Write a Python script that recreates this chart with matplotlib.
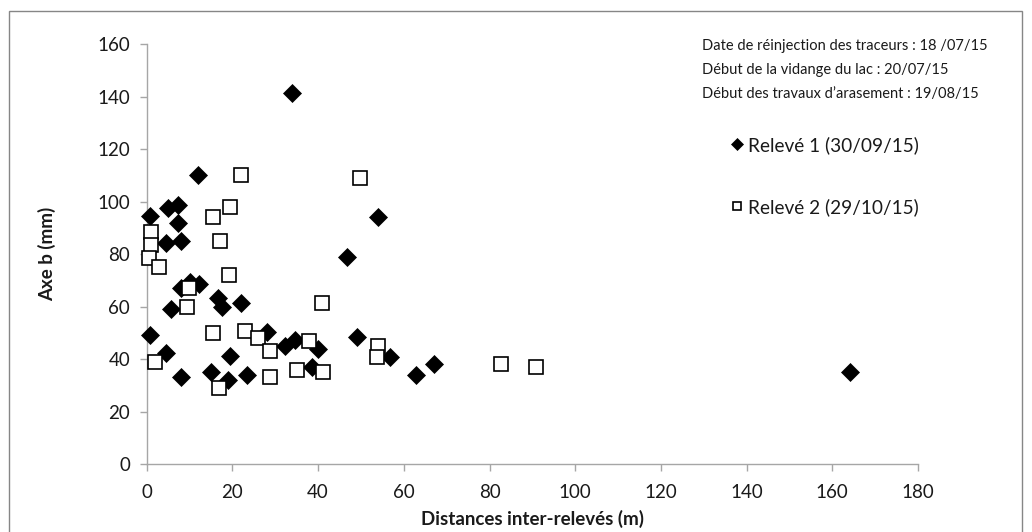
import matplotlib.pyplot as plt
from matplotlib.patches import Rectangle

# Relevé 1 (30/09/15) : distance inter-relevés (m) et axe b (mm)
dist_r1 = [0.8, 0.8, 5.0, 7.4, 7.4, 4.5, 8.1, 11.9, 10.1, 12.2, 8.1, 16.7,
           17.5, 22.1, 5.6, 28.0, 4.6, 19.4, 7.9, 15.0, 19.0, 23.3, 34.0,
           53.9, 46.8, 32.3, 34.6, 40.0, 49.0, 56.8, 38.5, 62.8, 67.1, 164.1]
axeb_r1 = [94.6, 49.3, 97.5, 98.7, 92.0, 84.4, 85.2, 110.2, 69.6, 68.7, 67.0,
           63.5, 60.0, 61.6, 59.1, 50.5, 42.3, 41.3, 33.4, 35.3, 32.2, 34.1,
           141.5, 94.1, 79.1, 45.1, 47.4, 43.8, 48.4, 41.0, 37.2, 34.1, 38.2, 35.3]

# Relevé 2 (29/10/15)
dist_r2 = [19.4, 15.5, 0.9, 0.9, 17.2, 0.5, 2.9, 19.2, 9.9, 9.3, 15.5, 22.9,
           26.0, 28.8, 1.9, 16.9, 28.8, 21.9, 49.8, 40.8, 37.9, 54.0, 53.8,
           35.0, 41.2, 82.6, 90.8]
axeb_r2 = [98.1, 94.3, 88.4, 83.5, 85.2, 78.5, 75.3, 72.1, 67.0, 60.0, 50.2,
           50.8, 48.2, 43.2, 38.9, 29.0, 33.2, 110.2, 108.9, 61.3, 47.1, 45.2,
           40.8, 36.0, 35.1, 38.1, 37.0]

dates = ['Date de réinjection des traceurs : 18 /07/15',
         'Début de la vidange du lac : 20/07/15',
         'Début des travaux d\u2019arasement : 19/08/15']

plt.rcParams['font.family'] = ['Lato', 'DejaVu Sans']
grey = '#a6a6a6'
txt = '#1a1a1a'

fig = plt.figure(figsize=(10.32, 5.32), dpi=100)
ax = fig.add_axes([0.1422, 0.1269, 0.7473, 0.7904])

l1, = ax.plot(dist_r1, axeb_r1, ls='none', marker='D', ms=9.4, clip_on=False,
              mfc='black', mec='black', mew=0.5, label='Relevé 1 (30/09/15)', zorder=3)
l2, = ax.plot(dist_r2, axeb_r2, ls='none', marker='s', ms=10, clip_on=False,
              mfc='white', mec='black', mew=1.2, label='Relevé 2 (29/10/15)', zorder=4)

ax.set_xlim(0, 180)
ax.set_ylim(0, 160)
ax.set_xticks(range(0, 181, 20))
ax.set_yticks(range(0, 161, 20))
for s in ['top', 'right']:
    ax.spines[s].set_visible(False)
for s in ['left', 'bottom']:
    ax.spines[s].set_color(grey)
    ax.spines[s].set_linewidth(1)
ax.tick_params(axis='both', colors=grey, labelcolor=txt, labelsize=13.5,
               length=5, width=1, direction='out')
ax.tick_params(axis='x', pad=9)
ax.tick_params(axis='y', pad=7)

ax.set_xlabel('Distances inter-relevés (m)', fontsize=13.5, fontweight='bold',
              color=txt, va='center')
ax.set_ylabel('Axe b (mm)', fontsize=13.5, fontweight='bold', color=txt, va='center')
ax.xaxis.set_label_coords(0.5, -0.1296)
ax.yaxis.set_label_coords(-0.1294, 0.5)

# dates du chantier en haut à droite
for i, d in enumerate(dates):
    fig.text(702 / 1032, 1 - (46 + 24 * i) / 532, d, fontsize=10.5, color=txt,
             ha='left', va='center')

fig.legend(handles=[l1, l2], loc='upper left', bbox_to_anchor=(714 / 1032, 1 - 119 / 532),
           frameon=False, fontsize=13.7, markerscale=0.6, handlelength=0.6,
           handletextpad=0.3, labelspacing=2.3, labelcolor=txt)

# cadre extérieur
fig.add_artist(Rectangle((9 / 1032, -0.05), 1013 / 1032, 1.05 - 11 / 532,
                         transform=fig.transFigure, fill=False,
                         edgecolor='#868686', linewidth=1))

fig.savefig('out.png', dpi=100)
